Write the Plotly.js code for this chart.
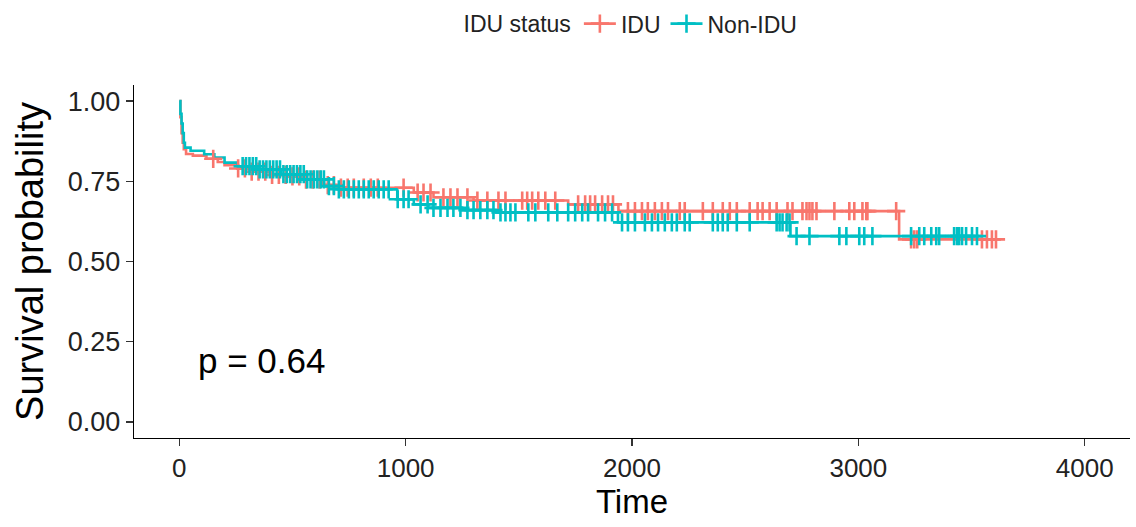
<!DOCTYPE html>
<html>
<head>
<meta charset="utf-8">
<script src="https://cdn.plot.ly/plotly-3.0.1.min.js"></script>
<style>html,body{margin:0;padding:0;background:#fff;}#chart{width:1136px;height:527px;}</style>
</head>
<body>
<div id="chart"></div>
<script>
// ---- Data (Kaplan-Meier step curves) ----
const groupNames = ["IDU", "Non-IDU"];
const groupColors = ["#F8766D", "#00BFC4"];

// IDU: step vertices (time, survival)
const iduTime = [0, 5, 10, 15, 20, 30, 60, 120, 170, 200, 260, 320, 400, 480, 560, 630, 700, 1036, 1123, 1300, 1718, 1940, 3180, 3608];
const iduSurv = [1.0, 0.95, 0.90, 0.87, 0.85, 0.835, 0.83, 0.82, 0.81, 0.80, 0.79, 0.78, 0.77, 0.765, 0.755, 0.738, 0.73, 0.715, 0.70, 0.69, 0.678, 0.657, 0.569, 0.569];
// IDU censoring times
const iduCensor = [150, 260, 290, 320, 350, 380, 410, 440, 470, 500, 530, 560, 590, 620,
  656, 683, 714, 744, 771, 815, 846, 877, 991, 1053, 1079, 1110, 1167, 1198, 1229, 1273, 1317, 1361,
  1410, 1441, 1515, 1537, 1559, 1586, 1617, 1661, 1762, 1793, 1815, 1837, 1868, 1894, 1916, 1982,
  2013, 2044, 2070, 2101, 2132, 2159, 2211, 2233, 2313, 2357, 2401, 2432, 2463, 2520, 2555, 2577,
  2608, 2639, 2687, 2709, 2753, 2771, 2784, 2797, 2815, 2894, 2960, 2982, 3018, 3035, 3040, 3167,
  3233, 3247, 3260, 3546, 3568, 3590, 3608];

// Non-IDU: step vertices (time, survival)
const nonTime = [0, 5, 10, 15, 20, 25, 50, 110, 155, 200, 258, 347, 449, 551, 640, 700, 963, 1036, 1100, 1250, 1400, 1938, 2700, 3533];
const nonSurv = [1.0, 0.96, 0.93, 0.90, 0.87, 0.855, 0.845, 0.834, 0.824, 0.808, 0.797, 0.787, 0.772, 0.756, 0.735, 0.725, 0.694, 0.678, 0.667, 0.66, 0.653, 0.622, 0.579, 0.579];
// Non-IDU censoring times
const nonCensor = [280, 295, 310, 325, 340, 355, 370, 385, 400, 415, 430, 445, 460, 475, 490, 505, 520,
  535, 550, 565, 580, 595, 610, 625, 639, 661, 683, 705, 727, 749, 771, 793, 815, 837, 859, 881, 903,
  925, 965, 991, 1013, 1066, 1097, 1123, 1154, 1185, 1211, 1242, 1273, 1300, 1330, 1361, 1388, 1419,
  1441, 1463, 1485, 1542, 1573, 1630, 1670, 1718, 1749, 1780, 1806, 1850, 1881, 1912, 1956, 1982,
  2013, 2057, 2088, 2115, 2145, 2176, 2198, 2233, 2255, 2357, 2379, 2401, 2423, 2463, 2520, 2639,
  2652, 2665, 2683, 2696, 2727, 2784, 2916, 2947, 3004, 3026, 3062, 3233, 3269, 3291, 3322, 3344,
  3357, 3423, 3436, 3445, 3458, 3476, 3502, 3524];

const xTicks = [0, 1000, 2000, 3000, 4000];
const yTicks = [0, 0.25, 0.5, 0.75, 1.0];
const pLabel = "p = 0.64";

// survival at a censoring time, looked up on the step curve
function survAt(times, surv, t) {
  let s = surv[0];
  for (let i = 0; i < times.length; i++) { if (times[i] <= t) s = surv[i]; else break; }
  return s;
}

const lineW = 2.6;
const mkCross = (c) => ({ symbol: "cross-thin", size: 13, line: { color: c, width: 2.6 }, color: c });

const traces = [
  { x: iduTime, y: iduSurv, mode: "lines", line: { shape: "hv", color: groupColors[0], width: lineW }, showlegend: false, hoverinfo: "skip" },
  { x: nonTime, y: nonSurv, mode: "lines", line: { shape: "hv", color: groupColors[1], width: lineW }, showlegend: false, hoverinfo: "skip" },
  { x: iduCensor, y: iduCensor.map(t => survAt(iduTime, iduSurv, t)), mode: "markers", marker: mkCross(groupColors[0]), showlegend: false },
  { x: nonCensor, y: nonCensor.map(t => survAt(nonTime, nonSurv, t)), mode: "markers", marker: mkCross(groupColors[1]), showlegend: false },
  { x: [null], y: [null], name: groupNames[0], mode: "lines+markers", line: { color: groupColors[0], width: lineW }, marker: mkCross(groupColors[0]) },
  { x: [null], y: [null], name: groupNames[1], mode: "lines+markers", line: { color: groupColors[1], width: lineW }, marker: mkCross(groupColors[1]) }
];

const font = "Liberation Sans, Arial, sans-serif";
const layout = {
  width: 1136, height: 527,
  margin: { l: 134, r: 6, t: 85, b: 89, autoexpand: false },
  paper_bgcolor: "#fff", plot_bgcolor: "#fff",
  font: { family: font, color: "#000" },
  showlegend: true,
  legend: {
    orientation: "h", x: 0.5, xanchor: "center", xref: "paper",
    y: 0.955, yanchor: "middle", yref: "container",
    title: { text: "IDU status", side: "left", font: { size: 23, color: "#222" } },
    font: { size: 23, color: "#222" }, itemwidth: 32, tracegroupgap: 0
  },
  xaxis: {
    range: [-200, 4200], tickvals: xTicks, ticktext: xTicks.map(String),
    showgrid: false, zeroline: false, showline: true, linecolor: "#000", linewidth: 1.2,
    ticks: "outside", ticklen: 7, tickcolor: "#333", tickwidth: 1.2,
    tickfont: { size: 26, color: "#222" },
    title: { text: "Time", font: { size: 33, color: "#000" }, standoff: 6 }
  },
  yaxis: {
    range: [-0.05, 1.05], tickvals: yTicks, ticktext: yTicks.map(v => v.toFixed(2)),
    showgrid: false, zeroline: false, showline: true, linecolor: "#000", linewidth: 1.2,
    ticks: "outside", ticklen: 7, tickcolor: "#333", tickwidth: 1.2,
    tickfont: { size: 27, color: "#222" },
    title: { text: "Survival probability", font: { size: 38, color: "#000" }, standoff: 12 }
  },
  annotations: [{
    x: 75, y: 0.19, xref: "x", yref: "y", text: pLabel, showarrow: false,
    xanchor: "left", yanchor: "middle", font: { size: 35, color: "#000" }
  }]
};

Plotly.newPlot("chart", traces, layout, { displayModeBar: false, staticPlot: true });
</script>
</body>
</html>
